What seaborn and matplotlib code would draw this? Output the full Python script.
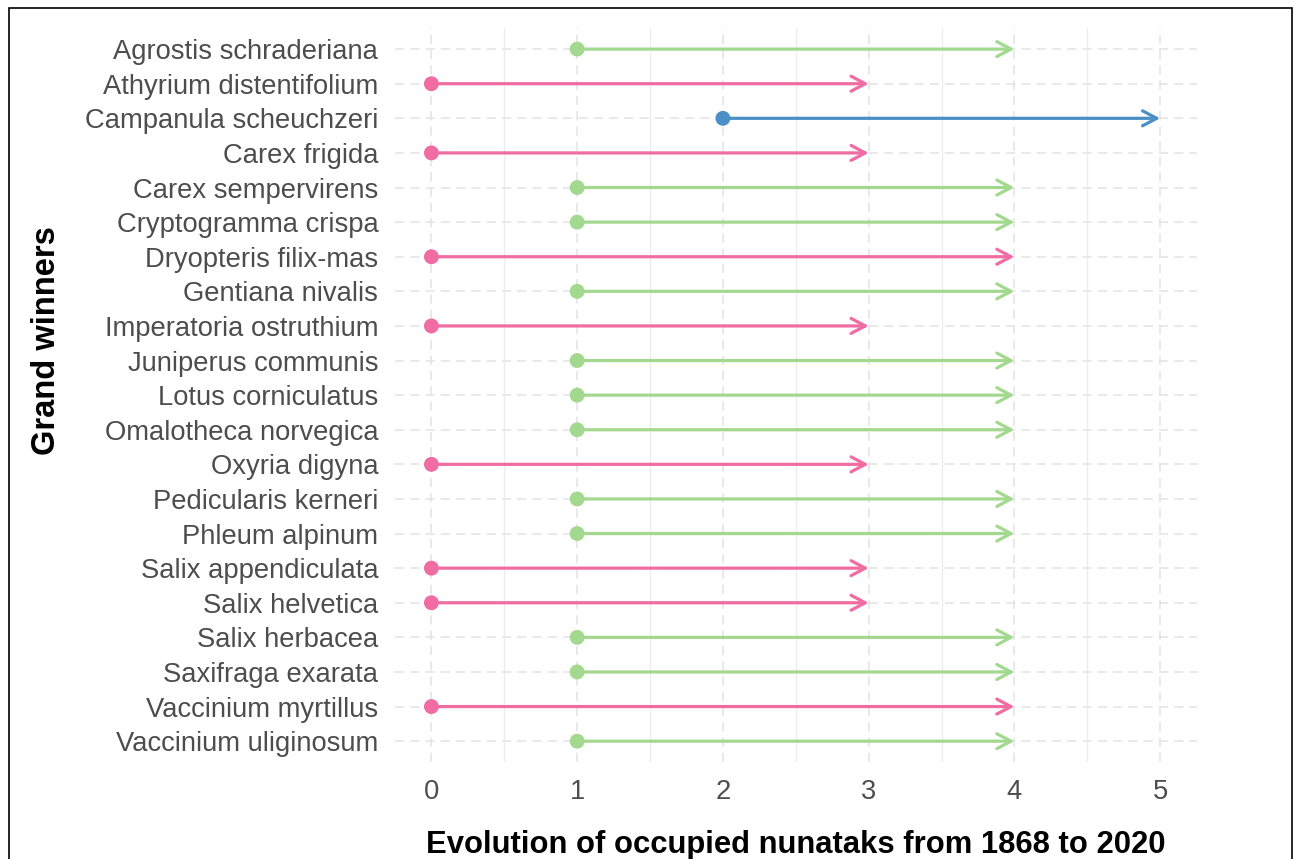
import matplotlib
matplotlib.use("Agg")
import matplotlib.pyplot as plt
import matplotlib.patches as mpatches
from matplotlib.ticker import MultipleLocator
import seaborn as sns
import pandas as pd

# data
species = [
    "Agrostis schraderiana", "Athyrium distentifolium", "Campanula scheuchzeri",
    "Carex frigida", "Carex sempervirens", "Cryptogramma crispa",
    "Dryopteris filix-mas", "Gentiana nivalis", "Imperatoria ostruthium",
    "Juniperus communis", "Lotus corniculatus", "Omalotheca norvegica",
    "Oxyria digyna", "Pedicularis kerneri", "Phleum alpinum",
    "Salix appendiculata", "Salix helvetica", "Salix herbacea",
    "Saxifraga exarata", "Vaccinium myrtillus", "Vaccinium uliginosum",
]
start_1868 = [1, 0, 2, 0, 1, 1, 0, 1, 0, 1, 1, 1, 0, 1, 1, 0, 0, 1, 1, 0, 1]
end_2020 = [4, 3, 5, 3, 4, 4, 4, 4, 3, 4, 4, 4, 3, 4, 4, 3, 3, 4, 4, 4, 4]
x_ticks = [0, 1, 2, 3, 4, 5]

PALETTE = {0: "#F06CA2", 1: "#A3D98F", 2: "#4A90C6"}

df = pd.DataFrame({"species": species, "start": start_1868, "end": end_2020})
df["y"] = range(len(df))

sns.set_theme(style="whitegrid")
plt.rcParams["font.family"] = ["Liberation Sans", "DejaVu Sans"]

fig = plt.figure(figsize=(12.95, 8.59), dpi=100)
ax = fig.add_axes([0.305, 0.113, 0.619, 0.854])

# arrows 1868 -> 2020
for _, row in df.iterrows():
    ax.annotate(
        "", xy=(row["end"], row["y"]), xytext=(row["start"], row["y"]),
        arrowprops=dict(arrowstyle="->,head_length=0.85,head_width=0.45",
                        color=PALETTE[row["start"]], lw=2.3,
                        shrinkA=0, shrinkB=0),
        zorder=3,
    )

sns.scatterplot(data=df, x="start", y="y", hue="start", palette=PALETTE,
                s=115, edgecolor="none", legend=False, ax=ax, zorder=4)

ax.set_xlim(-0.25, 5.25)
ax.set_ylim(len(df) - 0.4, -0.6)
ax.set_xticks(x_ticks)
ax.xaxis.set_minor_locator(MultipleLocator(0.5))
ax.set_yticks(df["y"])
ax.set_yticklabels(species)

ax.grid(which="major", axis="both", color="#E3E3E3", linestyle=(0, (6, 4)), lw=1.1)
ax.grid(which="minor", axis="x", color="#EDEDED", linestyle="-", lw=1.0)
for s in ax.spines.values():
    s.set_visible(False)
ax.tick_params(axis="both", which="both", length=0, labelsize=19.7,
               labelcolor="#4D4D4D")
ax.tick_params(axis="y", pad=12)
ax.tick_params(axis="x", pad=12)

ax.set_xlabel("Evolution of occupied nunataks from 1868 to 2020",
              fontsize=22.3, fontweight="bold", color="black", labelpad=18)
ax.set_ylabel("Grand winners", fontsize=23.5, fontweight="bold", color="black")
ax.yaxis.set_label_coords(-0.415, 0.575)

# image frame
fig.add_artist(mpatches.Rectangle((9 / 1295, -0.1), (1292 - 9) / 1295,
                                  1.1 - 8 / 859, transform=fig.transFigure,
                                  fill=False, edgecolor="black", lw=1.2))

fig.savefig("out.png", dpi=100)
